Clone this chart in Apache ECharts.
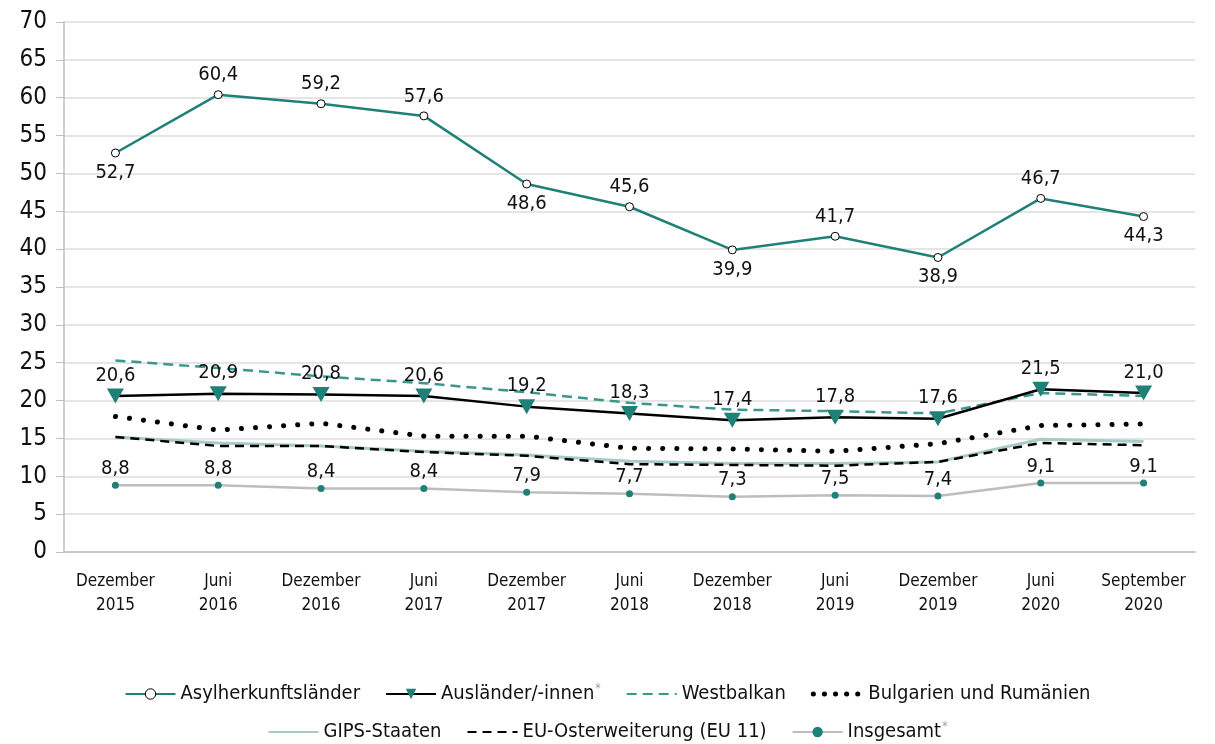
<!DOCTYPE html>
<html>
<head>
<meta charset="utf-8">
<script src="https://cdn.jsdelivr.net/npm/echarts@6/dist/echarts.min.js"></script>
<style>
  html, body { margin: 0; padding: 0; background: #fff; }
  #chart { width: 1215px; height: 744px; }
</style>
</head>
<body>
<div id="chart"></div>
<script>
// Zeitpunkte (x-Achse)
const categories = [
  'Dezember\n2015', 'Juni\n2016', 'Dezember\n2016', 'Juni\n2017', 'Dezember\n2017',
  'Juni\n2018', 'Dezember\n2018', 'Juni\n2019', 'Dezember\n2019', 'Juni\n2020', 'September\n2020'
];

// Werte je Gruppe
const asylherkunft = [52.7, 60.4, 59.2, 57.6, 48.6, 45.6, 39.9, 41.7, 38.9, 46.7, 44.3];
const auslaender   = [20.6, 20.9, 20.8, 20.6, 19.2, 18.3, 17.4, 17.8, 17.6, 21.5, 21.0];
const westbalkan   = [25.3, 24.3, 23.2, 22.3, 21.1, 19.7, 18.8, 18.6, 18.3, 21.0, 20.6];
const bulgRum      = [17.9, 16.1, 17.0, 15.3, 15.3, 13.7, 13.6, 13.3, 14.3, 16.7, 16.9];
const gips         = [15.2, 14.4, 14.0, 13.3, 12.8, 12.0, 11.7, 11.7, 11.9, 14.9, 14.6];
const euOst        = [15.2, 14.0, 14.0, 13.2, 12.7, 11.6, 11.5, 11.4, 11.9, 14.4, 14.1];
const insgesamt    = [8.8, 8.8, 8.4, 8.4, 7.9, 7.7, 7.3, 7.5, 7.4, 9.1, 9.1];

// Beschriftungen der Asyl-Linie unterhalb des Punktes
const asylBelow = [true, false, false, false, true, false, true, false, true, false, true];

// Reihen mit Fußnotenzeichen in der Legende
const footnoted = ['Ausländer/-innen', 'Insgesamt'];

const FONT = '"DejaVu Sans Condensed", "DejaVu Sans", sans-serif';
const TEAL = '#1f8077';
const fmt = v => v.toFixed(1).replace('.', ',');

const labelStyle = { fontFamily: FONT, fontSize: 20, color: '#111' };

const legendText = {
  fontFamily: FONT, fontSize: 20, color: '#111',
  rich: {
    t: { fontFamily: FONT, fontSize: 20, color: '#111' },
    s: { fontFamily: FONT, fontSize: 12, color: '#a0a0a0', padding: [0, 0, 10, 1] }
  }
};
const legendFormatter = name => footnoted.includes(name) ? '{t|' + name + '}{s|*}' : name;
const noMarker = { opacity: 0 };

const chart = echarts.init(document.getElementById('chart'), null, { renderer: 'canvas' });

chart.setOption({
  backgroundColor: '#fff',
  animation: false,
  grid: { left: 64, right: 20, top: 22, bottom: 192 },
  legend: [
    {
      top: 678, left: 'center', itemWidth: 50, itemHeight: 13, itemGap: 25,
      textStyle: legendText, formatter: legendFormatter,
      data: [
        { name: 'Asylherkunftsländer', itemStyle: { borderWidth: 1 } },
        { name: 'Ausländer/-innen' },
        { name: 'Westbalkan', itemStyle: noMarker },
        { name: 'Bulgarien und Rumänien', itemStyle: noMarker, lineStyle: { type: [0.1, 11], width: 5, cap: 'round' } }
      ]
    },
    {
      top: 716, left: 'center', itemWidth: 50, itemHeight: 13, itemGap: 25,
      textStyle: legendText, formatter: legendFormatter,
      data: [
        { name: 'GIPS-Staaten', itemStyle: noMarker },
        { name: 'EU-Osterweiterung (EU 11)', itemStyle: noMarker },
        { name: 'Insgesamt' }
      ]
    }
  ],
  xAxis: {
    type: 'category',
    data: categories,
    boundaryGap: true,
    axisLine: { lineStyle: { color: '#bfbfbf', width: 1.5 } },
    axisTick: { show: false },
    axisLabel: { interval: 0, fontFamily: FONT, fontSize: 17, color: '#111', lineHeight: 24, margin: 18 }
  },
  yAxis: {
    type: 'value',
    min: 0, max: 70, interval: 5,
    axisLine: { show: true, lineStyle: { color: '#bfbfbf', width: 1.5 } },
    axisTick: { show: true, inside: false, length: 8, lineStyle: { color: '#bfbfbf' } },
    splitLine: { lineStyle: { color: '#dcdcdc', width: 1.5 } },
    axisLabel: { fontFamily: FONT, fontSize: 24, color: '#111', margin: 17 }
  },
  series: [
    {
      name: 'GIPS-Staaten', type: 'line', data: gips, z: 2,
      symbol: 'none', lineStyle: { color: '#a9cbc7', width: 3 },
      itemStyle: { color: '#a9cbc7' }
    },
    {
      name: 'EU-Osterweiterung (EU 11)', type: 'line', data: euOst, z: 3,
      symbol: 'none', lineStyle: { color: '#000', width: 2.5, type: [9, 6] },
      itemStyle: { color: '#000' }
    },
    {
      name: 'Bulgarien und Rumänien', type: 'line', data: bulgRum, z: 3,
      symbol: 'none', lineStyle: { color: '#000', width: 5, type: [0.1, 14], cap: 'round' },
      itemStyle: { color: '#000' }
    },
    {
      name: 'Westbalkan', type: 'line', data: westbalkan, z: 3,
      symbol: 'none', lineStyle: { color: '#3b978e', width: 2.5, type: [10, 6] },
      itemStyle: { color: '#3b978e' }
    },
    {
      name: 'Ausländer/-innen', type: 'line', data: auslaender, z: 4,
      symbol: 'triangle', symbolSize: [17, 15], symbolRotate: 180,
      lineStyle: { color: '#000', width: 2.5 },
      itemStyle: { color: TEAL },
      label: { show: true, position: 'top', distance: 3, formatter: p => fmt(p.value), ...labelStyle }
    },
    {
      name: 'Insgesamt', type: 'line', data: insgesamt, z: 4,
      symbol: 'circle', symbolSize: 7,
      lineStyle: { color: '#bdbdbd', width: 2.5 },
      itemStyle: { color: TEAL },
      label: { show: true, position: 'top', distance: 3, formatter: p => fmt(p.value), ...labelStyle }
    },
    {
      name: 'Asylherkunftsländer', type: 'line', z: 5,
      data: asylherkunft.map((v, i) => ({
        value: v,
        label: { position: asylBelow[i] ? 'bottom' : 'top' }
      })),
      symbol: 'circle', symbolSize: 8, showAllSymbol: true,
      lineStyle: { color: TEAL, width: 2.5 },
      itemStyle: { color: '#fff', borderColor: '#000', borderWidth: 1 },
      label: { show: true, distance: 5, formatter: p => fmt(p.value), ...labelStyle }
    }
  ]
});
</script>
</body>
</html>
